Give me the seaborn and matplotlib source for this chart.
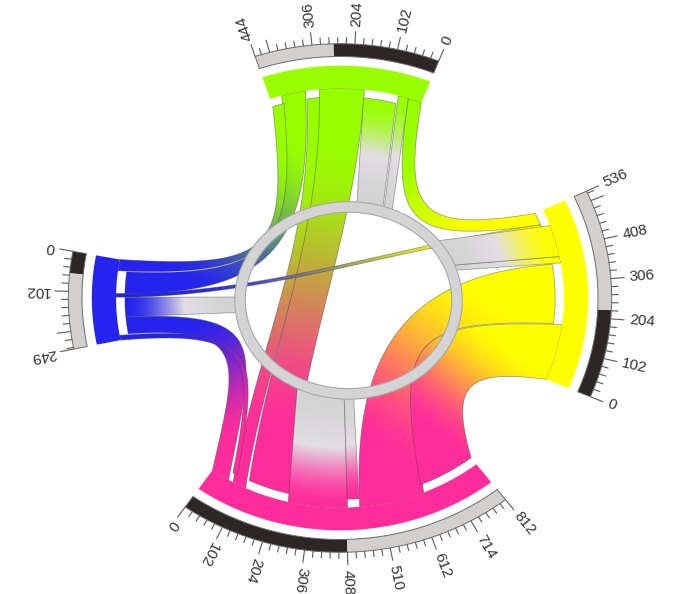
import numpy as np
import matplotlib
matplotlib.use("Agg")
import matplotlib.pyplot as plt
from matplotlib.path import Path
from matplotlib.patches import PathPatch
import seaborn as sns

sns.set_theme(style="white")
plt.rcParams["font.family"] = ["Liberation Sans", "DejaVu Sans"]

# Segments of the circular table view
seg_names = ["G", "Y", "M", "B"]
seg_totals = [444, 536, 812, 249]
seg_outgoing = [255, 226, 408, 56]
seg_colors = ["#99ff00", "#ffff00", "#ff2d9b", "#2424ee"]

# Links between segments: source, target, value
flow_source = ["G", "G", "M", "G", "B", "B", "M", "B", "M", "Y"]
flow_target = ["Y", "M", "G", "B", "G", "Y", "B", "M", "Y", "M"]
flow_value = [40, 130, 40, 70, 35, 12, 55, 15, 190, 175]

# Links that run into the central hub ring
hub_segment = ["G", "G", "Y", "Y", "M", "M", "B"]
hub_value = [30, 99, 20, 99, 172, 35, 62]
hub_inset = [False, True, False, False, False, True, True]

# Order of link ends along each segment (from 0 upward)
port_order = {
    "G": ["G>Y", "h0", "h1", "G>M", "M>G", "G>B", "B>G"],
    "Y": ["Y>M", "M>Y", "h2", "h3", "B>Y", "G>Y"],
    "M": ["M>B", "B>M", "M>G", "G>M", "h4", "h5", "M>Y", "Y>M"],
    "B": ["B>G", "G>B", "B>Y", "h6", "M>B", "B>M"],
}

# ---- layout ----
SEG_CENTER = {"G": 88.45, "Y": 1.0, "M": -88.6, "B": 180.5}
DEG_PER_UNIT = 0.089
R_SCALE_IN, R_SCALE_OUT = 1.0, 1.053
R_BAND_OUT, R_BAND_IN = 0.962, 0.868
R_INSET = 0.834
HUB_C = np.array([0.033, -0.010])
HUB_AX, HUB_AY = 0.4205, 0.387
AXIS_WEIGHT = 0.62      # how strongly ribbons leave along the segment axis
PULL, PULL_MAX = 0.72, 0.6
PX_X, PX_Y = 258.0, 241.5
CX_PX, CY_PX = 340.0, 298.0
W_PX, H_PX = 677, 594

total_of = dict(zip(seg_names, seg_totals))
color_of = dict(zip(seg_names, seg_colors))
outgoing_of = dict(zip(seg_names, seg_outgoing))
value_of = {f"{s}>{t}": v for s, t, v in zip(flow_source, flow_target, flow_value)}
for i, v in enumerate(hub_value):
    value_of[f"h{i}"] = v


def seg_start(s):
    return SEG_CENTER[s] - total_of[s] * DEG_PER_UNIT / 2.0


def ang(s, v):
    return seg_start(s) + v * DEG_PER_UNIT


ports = {}
for s in seg_names:
    cum = 0
    for pid in port_order[s]:
        v = value_of[pid]
        ports[(s, pid)] = (ang(s, cum), ang(s, cum + v))
        cum += v


def unit(a):
    a = np.radians(a)
    return np.array([np.cos(a), np.sin(a)])


def pol(r, a):
    return r * unit(a)


def arc(r, a0, a1, n=40):
    t = np.radians(np.linspace(a0, a1, n))
    return np.column_stack([r * np.cos(t), r * np.sin(t)])


def inward(s, a):
    d = -(AXIS_WEIGHT * unit(SEG_CENTER[s]) + (1 - AXIS_WEIGHT) * unit(a))
    return d / np.linalg.norm(d)


def edge(sA, rA, aA, sB, rB, aB, n=160):
    p0, p3 = pol(rA, aA), pol(rB, aB)
    L = min(PULL * np.linalg.norm(p3 - p0), PULL_MAX)
    p1 = p0 + L * inward(sA, aA)
    p2 = p3 + L * inward(sB, aB)
    t = np.linspace(0, 1, n)[:, None]
    return ((1 - t) ** 3 * p0 + 3 * (1 - t) ** 2 * t * p1
            + 3 * (1 - t) * t ** 2 * p2 + t ** 3 * p3)


def hit_ring(p0, d):
    q = p0 - HUB_C
    A = d[0] ** 2 / HUB_AX ** 2 + d[1] ** 2 / HUB_AY ** 2
    B = 2 * (q[0] * d[0] / HUB_AX ** 2 + q[1] * d[1] / HUB_AY ** 2)
    C = q[0] ** 2 / HUB_AX ** 2 + q[1] ** 2 / HUB_AY ** 2 - 1
    lam = (-B - np.sqrt(B * B - 4 * A * C)) / (2 * A)
    return p0 + (lam + 0.01) * d


def smooth(t, lo, hi):
    x = np.clip((t - lo) / (hi - lo), 0, 1)
    return x * x * (3 - 2 * x)


def closed_path(poly):
    return Path(np.vstack([poly, poly[:1]]), closed=True)


fig = plt.figure(figsize=(W_PX / 100, H_PX / 100), dpi=100)
ax = fig.add_axes([0, 0, 1, 1])
ax.set_axis_off()
xlim = (-CX_PX / PX_X, (W_PX - CX_PX) / PX_X)
ylim = (-(H_PX - CY_PX) / PX_Y, CY_PX / PX_Y)


def gradient_fill(poly, tfunc, colors, z):
    path = closed_path(poly)
    patch = PathPatch(path, facecolor="none", edgecolor="none", zorder=z)
    ax.add_patch(patch)
    xmin, ymin = poly.min(axis=0)
    xmax, ymax = poly.max(axis=0)
    X, Y = np.meshgrid(np.linspace(xmin, xmax, 320), np.linspace(ymin, ymax, 320))
    t = np.clip(tfunc(X, Y), 0, 1)
    cmap = sns.blend_palette(colors, as_cmap=True)
    im = ax.imshow(t, extent=(xmin, xmax, ymin, ymax), origin="lower", cmap=cmap,
                   vmin=0, vmax=1, aspect="auto", interpolation="bilinear", zorder=z)
    im.set_clip_path(patch)
    ax.add_patch(PathPatch(path, facecolor="none", edgecolor=(0.25, 0.25, 0.25, 0.45),
                           lw=0.6, zorder=z + 0.01))


# ---- segment-to-segment ribbons ----
draw_order = ["M>Y", "Y>M", "M>B", "G>B", "B>G", "M>G", "G>M", "B>M", "G>Y", "B>Y"]
for k, fid in enumerate(draw_order):
    s, t = fid.split(">")
    a1, a2 = ports[(s, fid)]
    b1, b2 = ports[(t, fid)]
    rA, rB = R_BAND_IN, R_INSET
    poly = np.vstack([
        arc(rA, a1, a2),
        edge(s, rA, a2, t, rB, b1),
        arc(rB, b1, b2),
        edge(t, rB, b2, s, rA, a1),
    ])
    p0 = pol(rA, (a1 + a2) / 2)
    p1 = pol(rB, (b1 + b2) / 2)
    d = p1 - p0

    def tf(X, Y, p0=p0, d=d):
        return smooth(((X - p0[0]) * d[0] + (Y - p0[1]) * d[1]) / (d @ d), 0.12, 0.88)

    gradient_fill(poly, tf, [color_of[s], color_of[t]], 2 + k * 0.1)

# ---- links into the hub ring ----
for i, s in enumerate(hub_segment):
    a1, a2 = ports[(s, f"h{i}")]
    r_end = R_INSET if hub_inset[i] else R_BAND_IN
    q1 = hit_ring(pol(r_end, a1), inward(s, a1))
    q2 = hit_ring(pol(r_end, a2), inward(s, a2))
    poly = np.vstack([arc(r_end, a1, a2), q2[None, :], q1[None, :]])
    r_ring = np.linalg.norm((q1 + q2) / 2)

    def tf(X, Y, r_end=r_end, r_ring=r_ring):
        return smooth((r_end - np.hypot(X, Y)) / (r_end - r_ring), 0.0, 1.0)

    gradient_fill(poly, tf, [color_of[s], "#e2dee2", "#d3d3d3"], 4 + i * 0.1)

# ---- hub ring ----
tt = np.linspace(0, 2 * np.pi, 400)
ex = HUB_C[0] + HUB_AX * np.cos(tt)
ey = HUB_C[1] + HUB_AY * np.sin(tt)
ax.plot(ex, ey, color="#a8a8a8", lw=8.4, zorder=6, solid_capstyle="butt")
ax.plot(ex, ey, color="#d4d4d4", lw=6.8, zorder=6.1, solid_capstyle="butt")


def sector(r0, r1, a0, a1, **kw):
    poly = np.vstack([arc(r1, a0, a1), arc(r0, a1, a0)])
    ax.add_patch(PathPatch(closed_path(poly), **kw))


# ---- segment bands, scales, ticks and labels ----
for s in seg_names:
    tot = total_of[s]
    a0, a1 = ang(s, 0), ang(s, tot)
    sector(R_BAND_IN, R_BAND_OUT, a0, a1, facecolor=color_of[s], edgecolor="none", zorder=7)
    am = ang(s, outgoing_of[s])
    sector(R_SCALE_IN, R_SCALE_OUT, a0, am, facecolor="#2d2626", edgecolor="none", zorder=7)
    sector(R_SCALE_IN, R_SCALE_OUT, am, a1, facecolor="#d2cfcf", edgecolor="none", zorder=7)
    sector(R_SCALE_IN, R_SCALE_OUT, a0, a1, facecolor="none", edgecolor="#6a6a6a", lw=0.7, zorder=7.2)

    step = 102 / 5
    n_steps = int(np.floor(tot / step + 1e-9))
    ticks = [(i * step, i % 5 == 0) for i in range(n_steps + 1)]
    if tot - n_steps * step > 1e-6:
        ticks.append((tot, True))
    for v, major in ticks:
        a = ang(s, v)
        ln = 0.052 if major else 0.026
        p_in, p_out = pol(R_SCALE_OUT, a), pol(R_SCALE_OUT + ln, a)
        ax.plot([p_in[0], p_out[0]], [p_in[1], p_out[1]], color="#5a5a5a", lw=0.8, zorder=7)
        if major and (v == tot or tot - v >= 50):
            p = pol(R_SCALE_OUT + 0.072, a)
            rot = np.degrees(np.arctan2(PX_Y * np.sin(np.radians(a)), PX_X * np.cos(np.radians(a))))
            ax.text(p[0], p[1], f"{int(round(v))}", rotation=rot, rotation_mode="anchor",
                    ha="left", va="center", fontsize=11, color="#333333", zorder=8)

ax.set_xlim(*xlim)
ax.set_ylim(*ylim)
ax.set_aspect("auto")
fig.savefig("out.png", dpi=100, facecolor="white")
